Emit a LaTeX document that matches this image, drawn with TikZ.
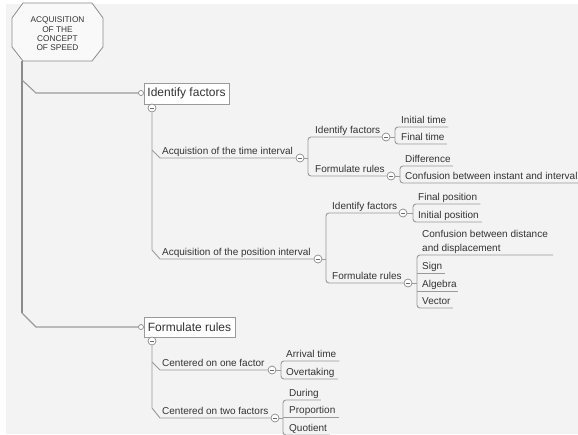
\documentclass[tikz,border=0pt]{standalone}
\usepackage{fontspec}
\setmainfont{Liberation Sans}
\definecolor{bg}{HTML}{F3F3F3}
\definecolor{ln}{HTML}{9A9A9A}
\definecolor{txt}{HTML}{333333}
\begin{document}
\begin{tikzpicture}[x=1pt,y=-1pt,
  lbl/.style={font=\fontsize{10}{12}\selectfont, text=txt, inner sep=0pt, anchor=base west},
  bigbox/.style={draw=ln, fill=white, font=\fontsize{12}{14}\selectfont, text=txt, inner sep=0pt, line width=0.8pt},
  btn/.style={circle, draw=ln!90!black, fill=white, minimum size=8pt, inner sep=0pt, line width=0.7pt,
    path picture={\draw[ln!70!black, line width=0.8pt] ([xshift=-2.2pt]path picture bounding box.center) -- ([xshift=2.2pt]path picture bounding box.center);}},
  knob/.style={circle, draw=ln!90!black, fill=white, minimum size=5pt, inner sep=0pt, line width=0.7pt},
  conn/.style={draw=ln, line width=0.9pt},
  trunk/.style={draw=ln!90!black, line width=1.8pt},
  brk/.style={conn, rounded corners=3pt},
]
\useasboundingbox (0,0) rectangle (578,434);
\clip (0,0) rectangle (578,434);
\fill[white] (0,0) rectangle (578,434);
\fill[bg] (6,4) rectangle (578,434);

% root
\draw[draw=ln!90!black, fill=bg!50!white, line width=0.8pt] (23,3) -- (92,3) -- (103,18) -- (103,47) -- (92,61) -- (23,61) -- (12,47) -- (12,18) -- cycle;
\node[font=\fontsize{8.3}{9.4}\selectfont, text=txt, align=center, inner sep=0pt] (root) at (57.5,34) {ACQUISITION\\OF THE\\CONCEPT\\OF SPEED};

% trunk
\coordinate (rootfoot) at (22,61);
\coordinate (tbend) at (22,313);
\node[knob] (k1) at (141,93) {};
\node[knob] (k2) at (141,327) {};
\draw[trunk] (rootfoot) -- (tbend);
\draw[conn, line width=1.1pt] (tbend) -- (36,327) -- (k2.west);
\draw[conn, line width=1.1pt] (22,80) -- (36,93) -- (k1.west);

% main boxes
\node[bigbox, minimum width=85pt, minimum height=21pt] (if) at (186.5,93.5) {Identify factors};
\node[bigbox, minimum width=91pt, minimum height=20pt] (fr) at (189.5,327) {Formulate rules};
\node[btn] (b1) at (152,108) {};
\node[btn] (b2) at (152,341) {};

% time / position
\node[btn] (ct) at (300,158) {};
\node[btn] (cp) at (318,259) {};
\node[lbl] (tt) at (162,154.5) {Acquistion of the time interval};
\node[lbl] (tp) at (162,255) {Acquisition of the position interval};
\draw[conn] (b1.south) -- (152,250) -- (160,259) -- (cp.west);
\draw[conn] (152,150) -- (160,158) -- (ct.west);

% time sub
\node[btn] (ctif) at (386,137) {};
\node[btn] (ctfr) at (391,176) {};
\node[lbl] (ttif) at (315,133) {Identify factors};
\node[lbl] (ttfr) at (315,172) {Formulate rules};
\draw[brk] (ctif.west) -- (308,137) -- (308,176) -- (ctfr.west);
\draw[conn] (ct.east) -- (308,158);

\node[lbl] (l1) at (401,123.5) {Initial time};
\node[lbl] (l2) at (401,140.5) {Final time};
\draw[brk] ([xshift=2pt,yshift=-3.5pt]l1.base east) -- ([xshift=-6pt,yshift=-3.5pt]l1.base west) -- ([xshift=-6pt,yshift=-3.5pt]l2.base west) -- ([xshift=2pt,yshift=-3.5pt]l2.base east);
\draw[conn] (ctif.east) -- (395,137);

\node[lbl] (l3) at (405,162.5) {Difference};
\node[lbl] (l4) at (405,179.5) {Confusion between instant and interval};
\draw[brk] ([xshift=2pt,yshift=-3.5pt]l3.base east) -- ([xshift=-5pt,yshift=-3.5pt]l3.base west) -- ([xshift=-5pt,yshift=-3.5pt]l4.base west) -- ([xshift=3pt,yshift=-3.5pt]l4.base east);
\draw[conn] (ctfr.east) -- (400,176);

% position sub
\node[btn] (cpif) at (403,213) {};
\node[btn] (cpfr) at (408,283) {};
\node[lbl] (tpif) at (332,209) {Identify factors};
\node[lbl] (tpfr) at (332,279) {Formulate rules};
\draw[brk] (cpif.west) -- (326,213) -- (326,283) -- (cpfr.west);
\draw[conn] (cp.east) -- (326,259);

\node[lbl] (l5) at (418,200.5) {Final position};
\node[lbl] (l6) at (418,218.5) {Initial position};
\draw[brk] ([xshift=3pt,yshift=-3.5pt]l5.base east) -- ([xshift=-5pt,yshift=-3.5pt]l5.base west) -- ([xshift=-5pt,yshift=-3.5pt]l6.base west) -- ([xshift=3pt,yshift=-3.5pt]l6.base east);
\draw[conn] (cpif.east) -- (413,213);

\node[lbl, anchor=south west, align=left, font=\fontsize{10}{13.5}\selectfont] (l7) at (422,253.6) {Confusion between distance\\and displacement};
\node[lbl] (l8) at (422,269.5) {Sign};
\node[lbl] (l9) at (422,287.5) {Algebra};
\node[lbl] (l10) at (422,304.5) {Vector};
\draw[brk] ([xshift=5pt,yshift=-1.4pt]l7.south east) -- ([xshift=-5pt,yshift=-1.4pt]l7.south west) -- ([xshift=-5pt,yshift=-3.5pt]l10.base west) -- ([xshift=2pt,yshift=-3.5pt]l10.base east);
\draw[conn] ([xshift=-5pt,yshift=-3.5pt]l8.base west) -- ([xshift=3pt,yshift=-3.5pt]l8.base east);
\draw[conn] ([xshift=-5pt,yshift=-3.5pt]l9.base west) -- ([xshift=1pt,yshift=-3.5pt]l9.base east);
\draw[conn] (cpfr.east) -- (417,283);

% formulate rules main
\node[btn] (c1f) at (272,370) {};
\node[btn] (c2f) at (275,418) {};
\node[lbl] (t1f) at (162,366) {Centered on one factor};
\node[lbl] (t2f) at (162,414) {Centered on two factors};
\draw[conn] (b2.south) -- (152,408) -- (160,418) -- (c2f.west);
\draw[conn] (152,362) -- (160,370) -- (c1f.west);

\node[lbl] (l11) at (286,357.5) {Arrival time};
\node[lbl] (l12) at (286,375.5) {Overtaking};
\draw[brk] ([xshift=3pt,yshift=-3.5pt]l11.base east) -- ([xshift=-5pt,yshift=-3.5pt]l11.base west) -- ([xshift=-5pt,yshift=-3.5pt]l12.base west) -- ([xshift=3pt,yshift=-3.5pt]l12.base east);
\draw[conn] (c1f.east) -- (281,370);

\node[lbl] (l13) at (289,396.5) {During};
\node[lbl] (l14) at (289,413.5) {Proportion};
\node[lbl] (l15) at (289,431.5) {Quotient};
\draw[brk] ([xshift=2pt,yshift=-3.5pt]l13.base east) -- ([xshift=-6pt,yshift=-3.5pt]l13.base west) -- ([xshift=-6pt,yshift=-3.5pt]l15.base west) -- ([xshift=3pt,yshift=-3.5pt]l15.base east);
\draw[conn] ([xshift=-6pt,yshift=-3.5pt]l14.base west) -- ([xshift=3pt,yshift=-3.5pt]l14.base east);
\draw[conn] (c2f.east) -- (283,418);
\end{tikzpicture}
\end{document}
